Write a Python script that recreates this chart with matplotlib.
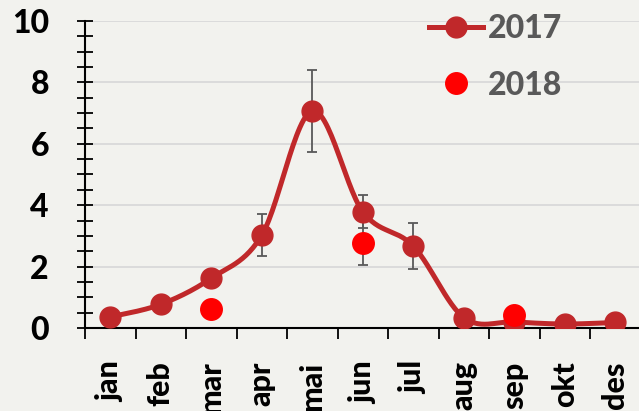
import numpy as np
import matplotlib
matplotlib.use("Agg")
import matplotlib.pyplot as plt
from matplotlib.lines import Line2D

# data
months = ["jan", "feb", "mar", "apr", "mai", "jun", "jul", "aug", "sep", "okt", "des"]
v2017 = [0.36, 0.77, 1.62, 3.02, 7.07, 3.79, 2.67, 0.34, 0.20, 0.13, 0.18]
err2017 = [0, 0, 0, 0.69, 1.34, 0.54, 0.74, 0, 0, 0, 0]
idx2018 = [2, 5, 8]
v2018 = [0.61, 2.76, 0.42]
err2018 = [0, 0.71, 0]

line_col = "#C0282A"
bg = "#F2F2EE"
plt.rcParams["font.family"] = ["Lato", "DejaVu Sans"]
W = "black"


def smooth(x, y, n=30):
    # Catmull-Rom style smoothing, like Excel's "smoothed line"
    x = np.asarray(x, float)
    y = np.asarray(y, float)
    px = np.concatenate([[x[0]], x, [x[-1]]])
    py = np.concatenate([[y[0]], y, [y[-1]]])
    xs, ys = [], []
    t = np.linspace(0, 1, n)
    for i in range(1, len(px) - 2):
        p0 = np.array([px[i], py[i]])
        p3 = np.array([px[i + 1], py[i + 1]])
        p1 = p0 + (np.array([px[i + 1], py[i + 1]]) - np.array([px[i - 1], py[i - 1]])) / 6
        p2 = p3 - (np.array([px[i + 2], py[i + 2]]) - np.array([px[i], py[i]])) / 6
        b = ((1 - t) ** 3)[:, None] * p0 + (3 * (1 - t) ** 2 * t)[:, None] * p1 \
            + (3 * (1 - t) * t ** 2)[:, None] * p2 + (t ** 3)[:, None] * p3
        xs.extend(b[:, 0])
        ys.extend(b[:, 1])
    return np.array(xs), np.array(ys)


fig = plt.figure(figsize=(6.39, 4.11), dpi=100, facecolor=bg)
ax = fig.add_axes([85 / 639, 83 / 411, 606 / 639, 307 / 411])
ax.set_facecolor(bg)

x = np.arange(len(months))
sx, sy = smooth(x, v2017)
ax.plot(sx, sy, color=line_col, lw=3.6, zorder=3, solid_capstyle="round")
ax.errorbar(x, v2017, yerr=err2017, fmt="none", ecolor="#595959", elinewidth=1.3,
            capsize=3.5, capthick=1.3, zorder=2)
ax.plot(x, v2017, "o", color=line_col, ms=15, zorder=4)

x18 = np.array(idx2018)
ax.errorbar(x18, v2018, yerr=err2018, fmt="none", ecolor="#595959", elinewidth=1.3,
            capsize=3.5, capthick=1.3, zorder=2)
ax.plot(x18, v2018, "o", color="#FF0000", ms=15.5, zorder=5)

ax.set_xlim(-0.5, 11.5)
ax.set_ylim(0, 10)
ax.set_yticks(range(0, 11, 2))
ax.set_yticks(np.arange(0, 10.01, 0.5), minor=True)
ax.yaxis.grid(True, which="major", color="#D9D9D9", lw=1.3)
ax.set_axisbelow(True)

ax.set_xticks(x)
ax.set_xticklabels(months, rotation=90, fontsize=22, fontweight=W)
ax.set_xticks(np.arange(-0.5, 11.5, 1), minor=True)
ax.tick_params(axis="x", which="major", length=0, pad=24)
ax.tick_params(axis="x", which="minor", length=8, width=1.3, direction="out")
ax.tick_params(axis="y", which="both", length=12, width=1.3, direction="inout")
ax.tick_params(axis="y", which="major", labelsize=23, pad=20)
for lab in ax.get_yticklabels():
    lab.set_fontweight(W)

for s in ["top", "right"]:
    ax.spines[s].set_visible(False)
ax.spines["left"].set_linewidth(1.5)
ax.spines["bottom"].set_linewidth(1.5)

handles = [
    Line2D([], [], color=line_col, lw=3.6, marker="o", ms=15),
    Line2D([], [], color="#FF0000", lw=0, marker="o", ms=15.5),
]
fig.legend(handles, ["2017", "2018"], loc="upper left", bbox_to_anchor=(400 / 639, 1.035),
           frameon=False, labelcolor="#595959", handlelength=1.7, handletextpad=0.15,
           labelspacing=0.85, prop={"size": 23, "weight": W})

fig.savefig("out.png", dpi=100, facecolor=bg)
